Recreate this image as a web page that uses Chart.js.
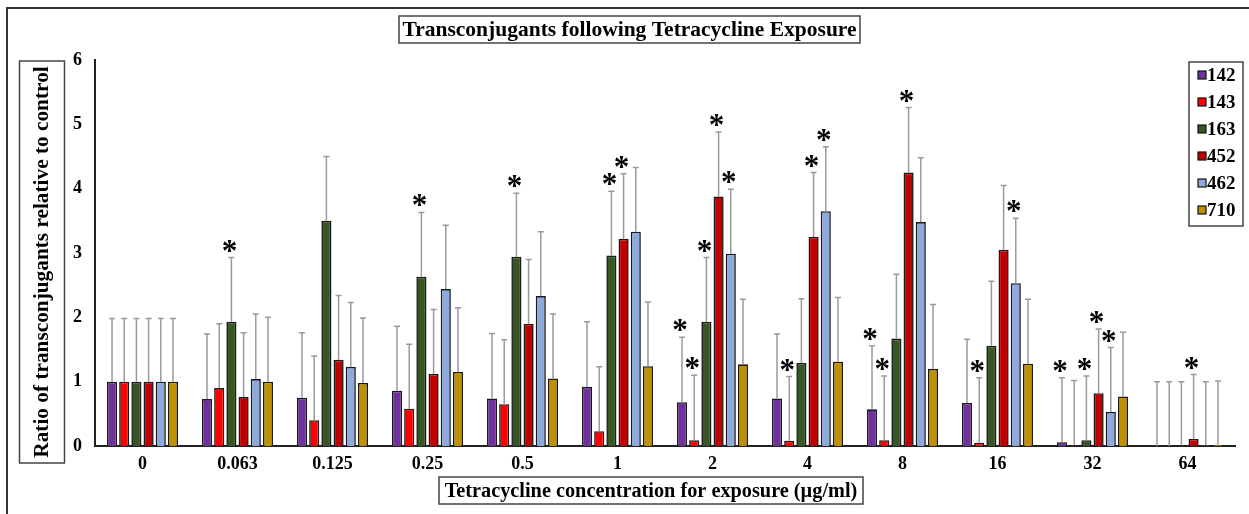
<!DOCTYPE html>
<html>
<head>
<meta charset="utf-8">
<script src="https://cdn.jsdelivr.net/npm/chart.js@4/dist/chart.umd.min.js"></script>
<style>
  html, body { margin: 0; padding: 0; background: #ffffff; }
  #wrap { width: 1249px; height: 514px; position: relative; }
</style>
</head>
<body>
<div id="wrap"><canvas id="c" width="1249" height="514"></canvas></div>
<script>
// ---- Data ----
const categories = ['0', '0.063', '0.125', '0.25', '0.5', '1', '2', '4', '8', '16', '32', '64'];
const strains = ['142', '143', '163', '452', '462', '710'];
const strainColors = ['#7030A0', '#FF0000', '#375623', '#C00000', '#8EA9DB', '#BF9000'];

const v142 = [1.00, 0.73, 0.75, 0.86, 0.74, 0.92, 0.68, 0.74, 0.57, 0.67, 0.06, 0.00];
const v143 = [1.00, 0.90, 0.40, 0.58, 0.65, 0.23, 0.09, 0.08, 0.09, 0.05, 0.01, 0.00];
const v163 = [1.00, 1.93, 3.50, 2.63, 2.94, 2.96, 1.93, 1.29, 1.67, 1.56, 0.09, 0.01];
const v452 = [1.00, 0.76, 1.34, 1.12, 1.90, 3.22, 3.88, 3.25, 4.25, 3.05, 0.82, 0.11];
const v462 = [1.00, 1.04, 1.23, 2.44, 2.33, 3.33, 2.99, 3.65, 3.48, 2.53, 0.53, 0.01];
const v710 = [1.00, 1.00, 0.98, 1.15, 1.05, 1.24, 1.27, 1.31, 1.20, 1.28, 0.77, 0.02];

// upper ends of the error bars
const err142 = [1.98, 1.74, 1.76, 1.86, 1.75, 1.93, 1.69, 1.74, 1.56, 1.66, 1.06, 1.00];
const err143 = [1.98, 1.90, 1.40, 1.58, 1.65, 1.23, 1.10, 1.08, 1.09, 1.06, 1.02, 1.00];
const err163 = [1.98, 2.93, 4.50, 3.63, 3.93, 3.96, 2.93, 2.29, 2.67, 2.56, 1.09, 1.00];
const err452 = [1.98, 1.76, 2.34, 2.12, 2.90, 4.23, 4.88, 4.25, 5.26, 4.05, 1.82, 1.11];
const err462 = [1.98, 2.05, 2.23, 3.43, 3.33, 4.33, 3.99, 4.65, 4.48, 3.54, 1.53, 1.00];
const err710 = [1.98, 2.00, 1.99, 2.15, 2.05, 2.24, 2.28, 2.31, 2.20, 2.28, 1.77, 1.01];

// significance markers (category indices)
const sig142 = [6, 8, 10];
const sig143 = [6, 7, 8, 9];
const sig163 = [1, 3, 4, 5, 6, 10];
const sig452 = [5, 6, 7, 8, 10, 11];
const sig462 = [6, 7, 9, 10];
const sig710 = [];

const yTicks = [0, 1, 2, 3, 4, 5, 6];

const titleText = 'Transconjugants following Tetracycline Exposure';
const xTitleText = 'Tetracycline concentration for exposure (\u00B5g/ml)';
const yTitleText = 'Ratio of transconjugants relative to control';

// ---- Build ----
const seriesValues = [v142, v143, v163, v452, v462, v710];
const seriesErr = [err142, err143, err163, err452, err462, err710];
const seriesSig = [sig142, sig143, sig163, sig452, sig462, sig710];

const SERIF = '"Liberation Serif", "Times New Roman", serif';

const datasets = strains.map((s, i) => ({
  label: s,
  data: seriesValues[i],
  backgroundColor: strainColors[i],
  borderColor: '#1a1a1a',
  borderWidth: 1.6,
  borderSkipped: 'bottom',
  categoryPercentage: 0.77,
  barPercentage: 0.83
}));

function boxedText(ctx, text, cx, cy, boxX, boxY, boxW, boxH, font, rotate) {
  ctx.save();
  ctx.strokeStyle = '#444';
  ctx.lineWidth = 1.5;
  ctx.strokeRect(boxX, boxY, boxW, boxH);
  ctx.fillStyle = '#000';
  ctx.font = font;
  ctx.textAlign = 'center';
  ctx.textBaseline = 'middle';
  ctx.translate(cx, cy);
  if (rotate) ctx.rotate(-Math.PI / 2);
  ctx.fillText(text, 0, 1);
  ctx.restore();
}

const decorPlugin = {
  id: 'decor',
  afterDatasetsDraw(chart) {
    const ctx = chart.ctx;
    const y = chart.scales.y;
    // error bars
    ctx.save();
    ctx.strokeStyle = '#9a9a9a';
    ctx.lineWidth = 1.5;
    seriesErr.forEach((errs, di) => {
      const meta = chart.getDatasetMeta(di);
      meta.data.forEach((bar, j) => {
        const x = bar.x;
        const yTop = y.getPixelForValue(errs[j]);
        const yBar = y.getPixelForValue(seriesValues[di][j]);
        ctx.beginPath();
        ctx.moveTo(x, yBar);
        ctx.lineTo(x, yTop);
        ctx.moveTo(x - 3, yTop);
        ctx.lineTo(x + 3, yTop);
        ctx.stroke();
      });
    });
    ctx.restore();
    // significance stars
    ctx.save();
    ctx.fillStyle = '#000';
    ctx.font = 'bold 31px ' + SERIF;
    ctx.textAlign = 'center';
    ctx.textBaseline = 'alphabetic';
    seriesSig.forEach((idxs, di) => {
      const meta = chart.getDatasetMeta(di);
      idxs.forEach(j => {
        const bar = meta.data[j];
        const yTop = y.getPixelForValue(seriesErr[di][j]);
        ctx.fillText('*', bar.x - 2, yTop + 3);
      });
    });
    ctx.restore();
  },
  afterDraw(chart) {
    const ctx = chart.ctx;
    // outer frame (top + left)
    ctx.save();
    ctx.strokeStyle = '#333';
    ctx.lineWidth = 2;
    ctx.beginPath();
    ctx.moveTo(7, 514);
    ctx.lineTo(7, 8);
    ctx.lineTo(1249, 8);
    ctx.stroke();
    ctx.restore();
    // titles
    boxedText(ctx, titleText, 629.5, 29.5, 399, 16, 461, 27, 'bold 21.5px ' + SERIF, false);
    boxedText(ctx, xTitleText, 651, 490.5, 439, 477, 424, 27, 'bold 20.3px ' + SERIF, false);
    boxedText(ctx, yTitleText, 41.5, 262, 19.5, 61, 45, 402, 'bold 21.3px ' + SERIF, true);
    // legend
    ctx.save();
    ctx.strokeStyle = '#444';
    ctx.lineWidth = 1.5;
    ctx.strokeRect(1189, 62, 54, 164);
    ctx.font = 'bold 19px ' + SERIF;
    ctx.textAlign = 'left';
    ctx.textBaseline = 'middle';
    strains.forEach((s, i) => {
      const cy = 75 + i * 27;
      ctx.fillStyle = strainColors[i];
      ctx.fillRect(1198, cy - 4, 8, 8);
      ctx.strokeStyle = '#111';
      ctx.lineWidth = 1.2;
      ctx.strokeRect(1198, cy - 4, 8, 8);
      ctx.fillStyle = '#000';
      ctx.fillText(s, 1207, cy + 1);
    });
    ctx.restore();
  }
};

new Chart(document.getElementById('c'), {
  type: 'bar',
  data: { labels: categories, datasets },
  options: {
    responsive: false,
    animation: false,
    devicePixelRatio: 1,
    layout: { padding: { top: 60, right: 14, left: 0, bottom: 0 } },
    plugins: {
      legend: { display: false },
      title: { display: false },
      tooltip: { enabled: false }
    },
    scales: {
      x: {
        grid: { display: false, drawTicks: false },
        border: { display: true, color: '#222', width: 2 },
        ticks: {
          color: '#000',
          font: { family: SERIF, size: 18, weight: 'bold' },
          padding: 8,
          maxRotation: 0,
          autoSkip: false
        },
        afterFit(scale) { scale.height = 68; }
      },
      y: {
        min: 0,
        max: 6,
        grid: { display: false, drawTicks: false },
        border: { display: true, color: '#222', width: 2 },
        afterBuildTicks(scale) { scale.ticks = yTicks.map(v => ({ value: v })); },
        ticks: {
          color: '#000',
          font: { family: SERIF, size: 18, weight: 'bold' },
          padding: 13
        },
        afterFit(scale) { scale.width = 95; }
      }
    }
  },
  plugins: [decorPlugin]
});
</script>
</body>
</html>
